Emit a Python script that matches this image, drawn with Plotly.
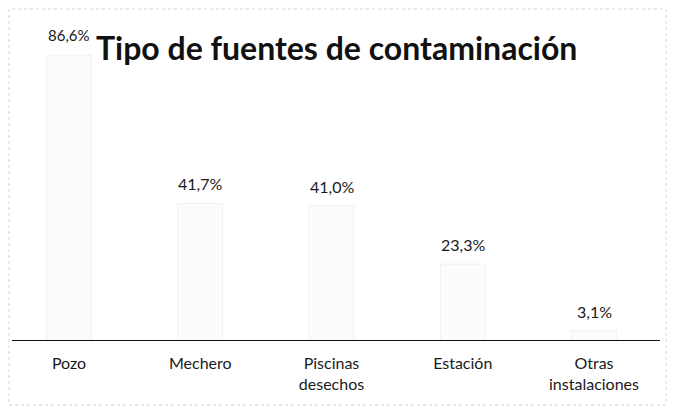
import plotly.graph_objects as go

categories = ["Pozo", "Mechero", "Piscinas<br>desechos", "Estación", "Otras<br>instalaciones"]
values = [86.6, 41.7, 41.0, 23.3, 3.1]
value_labels = ["86,6%", "41,7%", "41,0%", "23,3%", "3,1%"]
title_text = "Tipo de fuentes de contaminación"

label_sizes = [15, 16, 16, 16, 16]
label_shifts = [9, 8, 8, 8, 8]

FONT = "Lato, 'Open Sans', sans-serif"

# The page adds an 8px body margin, so the figure is drawn 8px smaller
W, H = 667, 406
L, R, T, B = 0, 15, 3, 73
PW = W - L - R          # plot width in px
PH = H - T - B          # plot height in px
step = 131.25           # px per category
first_center = 61.0     # px of first category centre
x0 = -first_center / step
x1 = x0 + PW / step

fig = go.Figure()
fig.add_trace(go.Bar(
    x=categories, y=values,
    width=0.34,
    marker=dict(color="#fcfcfc", line=dict(color="#f1f1f1", width=1)),
    hoverinfo="skip",
))

for c, v, t, s, sh in zip(categories, values, value_labels, label_sizes, label_shifts):
    fig.add_annotation(x=c, y=v, text=t, showarrow=False, xref="x", yref="y",
                       yanchor="bottom", yshift=sh,
                       font=dict(family=FONT, size=s, color="#1a1a1a"))

fig.add_annotation(x=328 / PW, y=(PH + T - 39) / PH, xref="paper", yref="paper",
                   text="<b>" + title_text + "</b>", showarrow=False,
                   xanchor="center", yanchor="middle",
                   font=dict(family=FONT, size=32, color="#111111"))

# baseline
fig.add_shape(type="line", xref="paper", yref="y", x0=4 / PW, x1=1.0, y0=0, y1=0,
              line=dict(color="#111111", width=2))
# faint scanned frame
fig.add_shape(type="rect", xref="paper", yref="paper",
              x0=1 / PW, x1=658 / PW, y0=(PH + T - 397) / PH, y1=(PH + T - 1) / PH,
              line=dict(color="#d4d4d4", width=1, dash="dot"), layer="below")

fig.update_layout(
    width=W, height=H,
    margin=dict(l=L, r=R, t=T, b=B, autoexpand=False),
    paper_bgcolor="white", plot_bgcolor="white",
    showlegend=False,
    font=dict(family=FONT, size=16, color="#1a1a1a"),
    xaxis=dict(range=[x0, x1], showline=False, showgrid=False, zeroline=False, ticks="",
               tickfont=dict(family=FONT, size=16, color="#1a1a1a"),
               ticklabelstandoff=11, fixedrange=True, automargin=False),
    yaxis=dict(range=[0, 100], visible=False, fixedrange=True),
)

fig.write_html("out.html")
